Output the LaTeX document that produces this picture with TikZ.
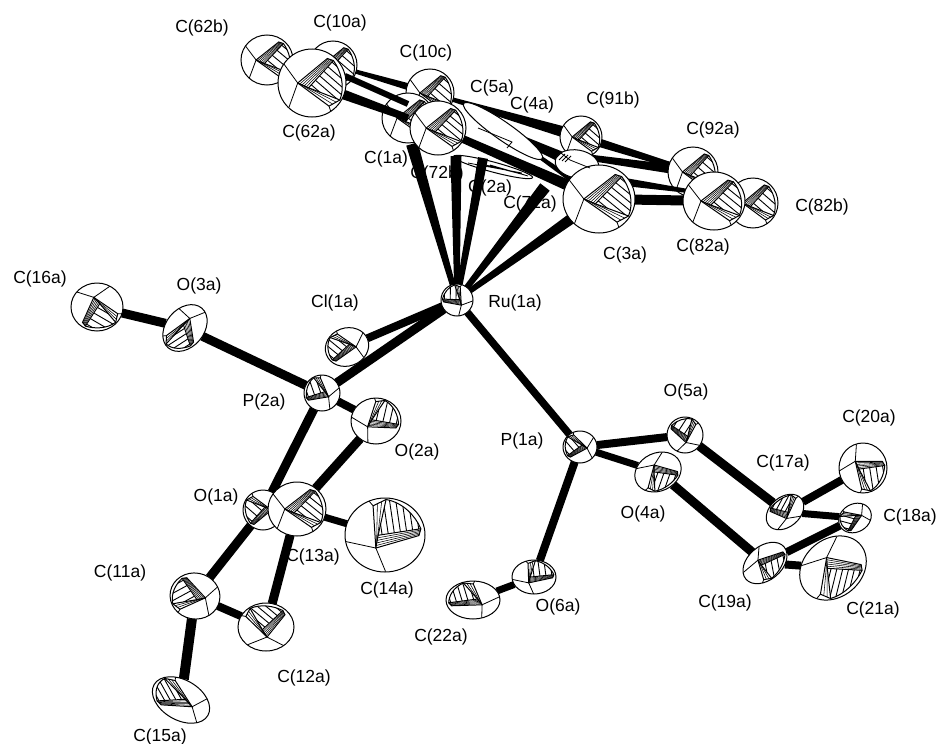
\documentclass[tikz,border=0pt]{standalone}
\usepackage{fontspec}
\setmainfont{Liberation Sans}
\usetikzlibrary{shapes.geometric,calc}
\pgfdeclarelayer{la}\pgfdeclarelayer{lb}\pgfdeclarelayer{lc}\pgfdeclarelayer{ld}
\pgfsetlayers{la,lb,lc,ld,main}
\tikzset{
  atomshape/.style={ellipse,draw=black,fill=white,line width=1pt,inner sep=0pt,outer sep=0pt},
  hatchline/.style={line width=.9pt,black},
  denseline/.style={line width=.55pt,black},
  edgeline/.style={line width=1pt,black},
  thinline/.style={line width=.8pt,black},
  bondline/.style={black,line cap=butt},
  lab/.style={font=\fontsize{17.5}{19}\selectfont,inner sep=0pt,text=black}
}
% #1 layer, #2 name, #3 x, #4 y, #5 rx, #6 ry, #7 rot, #8 octant angle, #9 flip
\newcommand{\atom}[9]{%
 \begin{pgfonlayer}{#1}
 \node[atomshape,minimum width=2*#5 pt,minimum height=2*#6 pt,rotate=#7] (#2) at (#3,#4) {};
 \begin{scope}[shift={(#3,#4)},rotate=#7,xscale=#5,yscale=#6,rotate=#8,xscale=#9]
  \pgfmathtruncatemacro\nst{max(2,round(#5/6))}
  \begin{scope}
   \clip (-.1,.14) -- (.63,-.66) .. controls (.85,-.35) and (.98,.1) .. (.82,.5) -- cycle;
   \foreach \i in {1,...,\nst} {
     \pgfmathsetmacro\t{(\i-.35)/\nst}
     \draw[hatchline] ({-.1+\t*.73},{.14-\t*.8}) -- ++(1.1,.95);
   }
  \end{scope}
  \draw[edgeline] (-.42,0) -- (.45,-.72) -- (.63,-.66) .. controls (.85,-.35) and (.98,.1) .. (.82,.5) -- (.5,.68) -- cycle;
  \draw[edgeline] (-.42,0) -- (-.1,.14) -- (.63,-.66);
  \draw[edgeline] (-.1,.14) -- (.82,.5);
  \draw[thinline] (-.42,0) -- (-.82,-.55) (-.42,0) -- (-.68,.72) (.5,.68) -- (.55,.83);
  \foreach \s in {.2,.4,.6,.8}
    \draw[denseline] ({-.42+\s*.32},{\s*.14}) -- ({.45+\s*.18},{-.72+\s*.06});
  \foreach \s in {.33,.66}
    \draw[denseline] ({-.42+\s*.32},{\s*.14}) -- ({.5+\s*.32},{.68-\s*.18});
 \end{scope}
 \end{pgfonlayer}}
% plain atom: outline only
\newcommand{\sliver}[7]{%
 \begin{pgfonlayer}{#1}
 \node[atomshape,minimum width=2*#5 pt,minimum height=2*#6 pt,rotate=#7] (#2) at (#3,#4) {};
 \end{pgfonlayer}}
\newcommand{\bond}[4]{%
 \begin{pgfonlayer}{#1}\draw[bondline,line width=#4pt] (#2) -- (#3);\end{pgfonlayer}}
% tapered bond: half widths #4 at the first end, #5 at the second
\newcommand{\tbond}[5]{%
 \begin{pgfonlayer}{#1}
 \fill[black,x=1pt,y=1pt] let \p1=($(#3)-(#2)$), \n1={atan2(\y1,\x1)} in
   ($(#2)+(\n1+90:#4pt)$) -- ($(#3)+(\n1+90:#5pt)$) -- ($(#3)+(\n1-90:#5pt)$) -- ($(#2)+(\n1-90:#4pt)$) -- cycle;
 \end{pgfonlayer}}
\begin{document}
\begin{tikzpicture}[x=1pt,y=-1pt]
\useasboundingbox (0,0) rectangle (940,744);
% atoms
\atom{lb}{c62b}{267}{60}{26}{25}{0}{0}{1}
\atom{lb}{c10a}{333}{65}{24}{24}{0}{0}{1}
\atom{lb}{c10c}{430}{93}{24}{24}{0}{0}{1}
\atom{lb}{cb}{408}{118}{26}{25}{0}{0}{1}
\atom{lb}{c91b}{581}{137}{21}{21}{0}{0}{1}
\atom{lb}{c92a}{693}{172}{25}{25}{0}{0}{1}
\atom{lb}{c82b}{753}{203}{25}{25}{0}{0}{1}
\sliver{lb}{c72b}{493}{167}{41}{5}{-15}
\sliver{ld}{c5a}{503}{131}{48}{9}{-35}
\sliver{ld}{c4a}{577}{164}{22}{14}{-10}
\atom{ld}{c62a}{312}{83}{34}{34}{0}{0}{1}
\atom{ld}{c1a}{438}{128}{28}{27}{0}{0}{1}
\atom{ld}{c3a}{599}{199}{36}{34}{0}{0}{1}
\atom{ld}{c82a}{714}{201}{31}{29}{0}{0}{1}
\atom{ld}{ru}{457}{300}{16}{16}{0}{130}{1}
\atom{ld}{cl}{347}{347}{22}{19}{20}{158}{1}
\atom{ld}{p2}{322}{393}{18}{18}{0}{150}{1}
\atom{ld}{o3}{185}{328}{26}{19}{50}{-162}{1}
\atom{ld}{c16}{97}{307}{26}{24}{0}{107}{-1}
\atom{ld}{o2}{376}{421}{25}{23}{0}{-143}{-1}
\atom{lb}{o1}{263}{510}{20}{20}{0}{180}{1}
\atom{ld}{c13}{297}{509}{29}{27}{0}{0}{1}
\atom{ld}{c14}{385}{535}{40}{37}{0}{-123}{-1}
\atom{ld}{c11}{195}{596}{25}{23}{-10}{0}{-1}
\atom{ld}{c12}{266}{627}{28}{24}{0}{-85}{-1}
\atom{ld}{c15}{181}{700}{31}{20}{-30}{178}{1}
\atom{ld}{p1}{580}{447}{17}{16}{0}{170}{1}
\atom{lb}{o5}{685}{435}{18}{18}{0}{98}{1}
\atom{ld}{o4}{658}{472}{24}{19}{25}{-87}{1}
\atom{ld}{c17}{785}{512}{21}{15}{40}{70}{1}
\atom{ld}{c20}{863}{468}{24}{25}{0}{-40}{1}
\atom{lb}{c18}{855}{518}{17}{14}{30}{170}{1}
\atom{ld}{c19}{765}{563}{25}{17}{40}{-70}{1}
\atom{ld}{c21}{833}{568}{36}{29}{40}{-97}{1}
\atom{ld}{o6}{534}{577}{22}{17}{0}{-125}{-1}
\atom{ld}{c22}{473}{600}{27}{19}{0}{143}{1}
% details of the flat ellipsoids
\begin{pgfonlayer}{lb}
 \draw[thinline] (468,163) -- (522,173) (478,163) -- (525,175) (490,165) -- (528,176);
\end{pgfonlayer}
\begin{pgfonlayer}{ld}
 \draw[thinline] (478,128) -- (512,142) -- (507,148) (557,150) -- (570,160) -- (590,168);
 \draw[hatchline] (556,158) -- (562,152) (559,160) -- (565,154) (562,161) -- (568,155) (565,162) -- (571,156);
\end{pgfonlayer}
% free bond ends
\coordinate (r1) at (345,76);
\coordinate (r2) at (408,104);
\coordinate (r3) at (625,182);
\coordinate (r4) at (688,191);
\coordinate (r5) at (585,157);
\coordinate (e1a) at (412,144);
\coordinate (e72b) at (456,156);
\coordinate (e2a) at (483,158);
\coordinate (e72a) at (545,187);
% bonds: rear
\tbond{la}{c10a}{c10c}{1.5}{4}
\tbond{la}{c10c}{c91b}{1.5}{6}
\tbond{la}{c91b}{c92a}{4.5}{2.5}
\tbond{la}{r5}{c92a}{3}{5}
\bond{la}{c62b}{c62a}{6}
\bond{la}{p2}{o1}{9}
\bond{la}{o2}{c13}{9}
\bond{la}{o1}{c11}{9}
\bond{la}{p1}{o5}{8}
\bond{la}{o5}{c17}{9}
\bond{la}{c17}{c18}{7}
\bond{la}{c18}{c19}{8}
% bonds: front
\bond{lc}{r1}{r2}{6}
\tbond{lc}{c62a}{cb}{5.5}{3.5}
\tbond{lc}{c1a}{c3a}{3.5}{6}
\tbond{lc}{c5a}{c4a}{3}{6}
\tbond{lc}{c5a}{c3a}{1}{3.5}
\tbond{lc}{r3}{r4}{4}{2}
\bond{lc}{c3a}{c82a}{10}
\tbond{lc}{ru}{e1a}{2.5}{6}
\tbond{lc}{ru}{e72b}{2.5}{5.5}
\tbond{lc}{ru}{e2a}{2.5}{5}
\tbond{lc}{ru}{e72a}{2.5}{6}
\tbond{lc}{ru}{c3a}{2.5}{6}
\bond{lc}{ru}{p1}{7.5}
\bond{lc}{ru}{p2}{9}
\bond{lc}{ru}{cl}{8}
\bond{lc}{p2}{o3}{9}
\bond{lc}{o3}{c16}{9}
\bond{lc}{p2}{o2}{8}
\bond{lc}{c13}{c14}{7}
\bond{lc}{c13}{c12}{9}
\bond{lc}{c11}{c12}{8}
\bond{lc}{c11}{c15}{10}
\bond{lc}{p1}{o4}{7}
\bond{lc}{p1}{o6}{8}
\bond{lc}{o6}{c22}{7}
\bond{lc}{o4}{c19}{9}
\bond{lc}{c17}{c20}{8}
\bond{lc}{c19}{c21}{8}
% labels
\node[lab] (l1) at (202,28) {C(62b)};
\node[lab] (l2) at (340,23) {C(10a)};
\node[lab] (l3) at (426,53) {C(10c)};
\node[lab] (l4) at (492,88) {C(5a)};
\node[lab] (l5) at (532,105) {C(4a)};
\node[lab] (l6) at (613,100) {C(91b)};
\node[lab] (l7) at (713,130) {C(92a)};
\node[lab] (l8) at (309,133) {C(62a)};
\node[lab] (l9) at (386,159) {C(1a)};
\node[lab] (l10) at (437,174) {C(72b)};
\node[lab] (l11) at (490,188) {C(2a)};
\node[lab] (l12) at (530,204) {C(72a)};
\node[lab] (l13) at (625,255) {C(3a)};
\node[lab] (l14) at (703,247) {C(82a)};
\node[lab] (l15) at (822,207) {C(82b)};
\node[lab] (l16) at (40,279) {C(16a)};
\node[lab] (l17) at (199,286) {O(3a)};
\node[lab] (l18) at (335,303) {Cl(1a)};
\node[lab] (l19) at (515,303) {Ru(1a)};
\node[lab] (l20) at (264,402) {P(2a)};
\node[lab] (l21) at (417,452) {O(2a)};
\node[lab] (l22) at (216,497) {O(1a)};
\node[lab] (l23) at (313,557) {C(13a)};
\node[lab] (l24) at (387,590) {C(14a)};
\node[lab] (l25) at (120,573) {C(11a)};
\node[lab] (l26) at (304,678) {C(12a)};
\node[lab] (l27) at (160,737) {C(15a)};
\node[lab] (l28) at (441,637) {C(22a)};
\node[lab] (l29) at (558,607) {O(6a)};
\node[lab] (l30) at (522,441) {P(1a)};
\node[lab] (l31) at (686,392) {O(5a)};
\node[lab] (l32) at (643,514) {O(4a)};
\node[lab] (l33) at (783,463) {C(17a)};
\node[lab] (l34) at (869,418) {C(20a)};
\node[lab] (l35) at (910,517) {C(18a)};
\node[lab] (l36) at (725,603) {C(19a)};
\node[lab] (l37) at (873,610) {C(21a)};
\end{tikzpicture}
\end{document}
